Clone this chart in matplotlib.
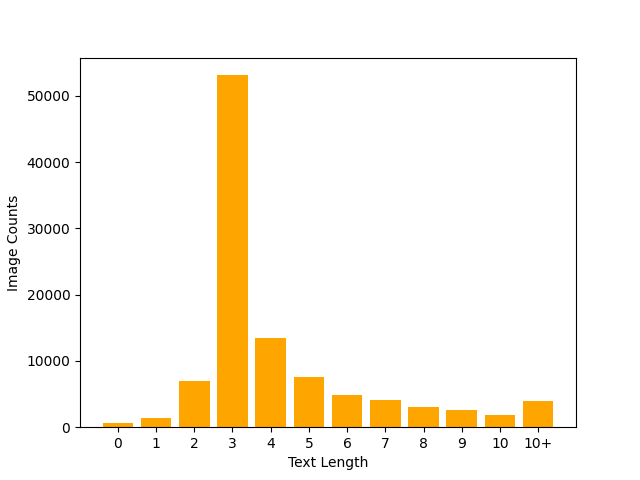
import matplotlib
matplotlib.use('Agg')
from matplotlib import pyplot as plt

text_lengths = ['0', '1', '2', '3', '4', '5', '6', '7', '8', '9', '10', '10+']
image_counts = [600, 1360, 6950, 53100, 13450, 7530, 4820, 4070, 3010, 2560, 1800, 3920]

fig, ax = plt.subplots(figsize=(6.4, 4.8), dpi=100)
ax.bar(text_lengths, image_counts, color='orange')
ax.set_xlabel('Text Length')
ax.set_ylabel('Image Counts')

plt.savefig('out.png')
